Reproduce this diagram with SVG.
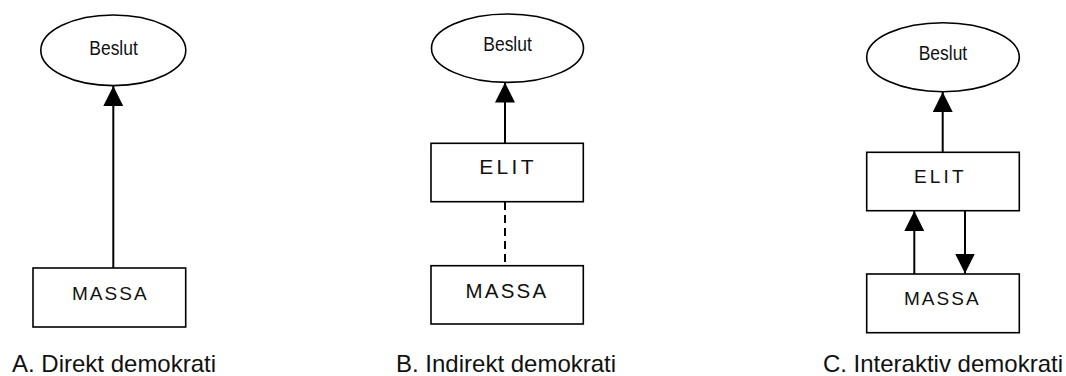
<svg xmlns="http://www.w3.org/2000/svg" width="1066" height="376" viewBox="0 0 1066 376">
<style>
.shape{fill:#fff;stroke:#000;stroke-width:1.6}
.conn{stroke:#000;stroke-width:2;fill:none}
.dash{stroke-dasharray:8 5}
.bes{font-family:"Liberation Sans",Arial,sans-serif;font-size:21px;fill:#111}
.lbl{font-family:"Liberation Sans",Arial,sans-serif;fill:#111;text-anchor:middle}
.cap{font-family:"Liberation Sans",Arial,sans-serif;font-size:24px;fill:#111}
</style>
<defs>
<marker id="ah" markerUnits="userSpaceOnUse" markerWidth="20" markerHeight="20" refX="20" refY="10" orient="auto">
<path d="M0,0 L20,10 L0,20 Z" fill="#000"/>
</marker>
</defs>
<rect width="1066" height="376" fill="#fff"/>
<g id="connectors">
<line class="conn" x1="113.3" y1="268" x2="113.3" y2="86" marker-end="url(#ah)"/>
<line class="conn" x1="505" y1="143.3" x2="505" y2="82.5" marker-end="url(#ah)"/>
<line class="conn dash" x1="505" y1="202" x2="505" y2="265.7"/>
<line class="conn" x1="942.7" y1="152.3" x2="942.7" y2="92" marker-end="url(#ah)"/>
<line class="conn" x1="914.3" y1="274" x2="914.3" y2="211" marker-end="url(#ah)"/>
<line class="conn" x1="965" y1="211" x2="965" y2="273.5" marker-end="url(#ah)"/>
</g>
<g id="beslutA">
<ellipse class="shape" cx="113.3" cy="50.3" rx="72.5" ry="35.3"/>
<text class="bes" x="89.3" y="54.5" textLength="48.5" lengthAdjust="spacingAndGlyphs">Beslut</text>
</g>
<g id="massaA">
<rect class="shape" x="33" y="268" width="152.7" height="59"/>
<text class="lbl" x="110.3" y="300" font-size="19" letter-spacing="2">MASSA</text>
</g>
<g id="beslutB">
<ellipse class="shape" cx="507.5" cy="48.2" rx="76" ry="34.2"/>
<text class="bes" x="483.3" y="50.5" textLength="48.5" lengthAdjust="spacingAndGlyphs">Beslut</text>
</g>
<g id="elitB">
<rect class="shape" x="431" y="143.3" width="152.3" height="58.4"/>
<text class="lbl" x="508" y="174" font-size="21" letter-spacing="3.3">ELIT</text>
</g>
<g id="massaB">
<rect class="shape" x="431" y="265.7" width="152.3" height="58.3"/>
<text class="lbl" x="506.9" y="298.3" font-size="20.5" letter-spacing="2.2">MASSA</text>
</g>
<g id="beslutC">
<ellipse class="shape" cx="943" cy="57.2" rx="76.3" ry="34.5"/>
<text class="bes" x="918.7" y="60" textLength="48.5" lengthAdjust="spacingAndGlyphs">Beslut</text>
</g>
<g id="elitC">
<rect class="shape" x="866.7" y="152.3" width="152.6" height="58.4"/>
<text class="lbl" x="940.4" y="183.3" font-size="19" letter-spacing="3.2">ELIT</text>
</g>
<g id="massaC">
<rect class="shape" x="866.7" y="274" width="152.6" height="58.7"/>
<text class="lbl" x="942.3" y="305" font-size="19" letter-spacing="2">MASSA</text>
</g>
<g id="captions">
<text class="cap" x="12" y="372">A. Direkt demokrati</text>
<text class="cap" x="396" y="372">B. Indirekt demokrati</text>
<text class="cap" x="1063" y="372" text-anchor="end">C. Interaktiv demokrati</text>
</g>
</svg>
